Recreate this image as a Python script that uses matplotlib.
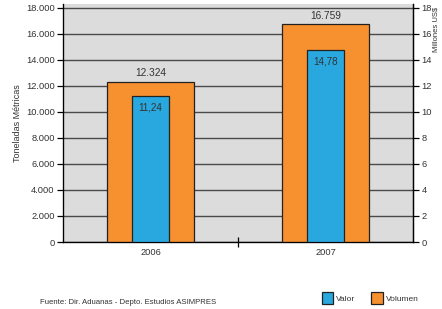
import matplotlib
matplotlib.use("Agg")
import matplotlib.pyplot as plt
from matplotlib.patches import Patch
from matplotlib.ticker import FuncFormatter

plt.rcParams['font.family'] = ['Liberation Sans', 'DejaVu Sans']

years = ["2006", "2007"]
volumen = [12324, 16759]          # toneladas métricas
valor = [11.24, 14.78]            # millones US$
volumen_labels = ["12.324", "16.759"]
valor_labels = ["11,24", "14,78"]

orange = "#F7902F"
blue = "#29A8E0"
txt = "#333333"

fig = plt.figure(figsize=(4.42, 3.09), dpi=100)
ax = fig.add_axes([63/442, 1-242/309, 350/442, 238/309])
ax.set_facecolor("#DCDCDC")
x = [0.5, 1.5]

ax.bar(x, volumen, width=0.5, color=orange, edgecolor="#222222", linewidth=0.9, zorder=3)
ax.set_xlim(0, 2)
ax.set_ylim(0, 18300)
ax.set_yticks(range(0, 18001, 2000))
ax.yaxis.set_major_formatter(FuncFormatter(lambda v, p: f"{int(v):,}".replace(",", ".")))
ax.grid(axis='y', color="#4a4a4a", linewidth=1.0, zorder=1)
ax.set_axisbelow(True)
ax.set_xticks(x)
ax.set_xticklabels(years)
ax.set_xticks([1], minor=True)
ax.tick_params(axis='x', which='major', length=0, labelsize=6.7, colors=txt, pad=4)
ax.tick_params(axis='x', which='minor', length=7, direction='inout', width=0.9)
ax.tick_params(axis='y', length=4, width=0.9, labelsize=6.7, labelcolor=txt, pad=2)
ax.spines['top'].set_visible(False)
for s in ['left', 'right', 'bottom']:
    ax.spines[s].set_linewidth(0.9)
ax.set_ylabel("Toneladas Métricas", fontsize=6.5, color=txt, labelpad=3)

for xi, v, lab in zip(x, volumen, volumen_labels):
    ax.annotate(lab, (xi, v), xytext=(0, 2.5), textcoords="offset points",
                ha='center', va='bottom', fontsize=7.3, color=txt)

ax2 = ax.twinx()
ax2.bar(x, valor, width=0.21, color=blue, edgecolor="#222222", linewidth=0.9, zorder=3)
ax2.set_ylim(0, 18.3)
ax2.set_yticks(range(0, 19, 2))
ax2.tick_params(axis='y', length=4, width=0.9, labelsize=6.7, labelcolor=txt, pad=2)
ax2.spines['top'].set_visible(False)
ax2.spines['right'].set_linewidth(0.9)
for xi, v, lab in zip(x, valor, valor_labels):
    ax2.annotate(lab, (xi, v), xytext=(0, -5), textcoords="offset points",
                 ha='center', va='top', fontsize=7.1, color=txt)

fig.text(436/442, 1-52/309, "Millones US$", rotation=90, ha='center', va='bottom',
         fontsize=5.5, color=txt)

fig.text(40/442, 1-302/309, "Fuente: Dir. Aduanas - Depto. Estudios ASIMPRES",
         fontsize=5.6, color=txt, ha='left', va='center')

handles = [Patch(facecolor=blue, edgecolor="#222222", linewidth=0.9, label="Valor"),
           Patch(facecolor=orange, edgecolor="#222222", linewidth=0.9, label="Volumen")]
fig.legend(handles=handles, loc='center left', bbox_to_anchor=(314/442, 1-298/309),
           ncol=2, frameon=False, fontsize=6.0, handlelength=1.4, handleheight=1.7,
           handletextpad=0.35, columnspacing=1.9, labelcolor=txt)

fig.savefig("out.png", dpi=100)
